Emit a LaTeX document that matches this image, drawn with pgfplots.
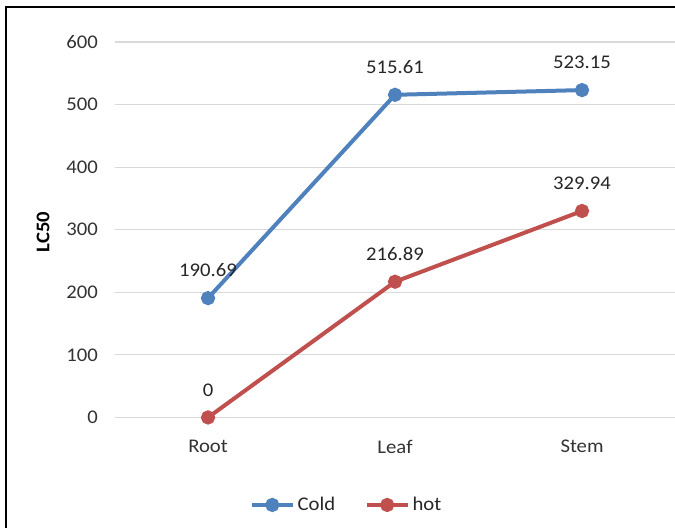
\documentclass[border=0pt]{standalone}
\usepackage{pgfplots}
\pgfplotsset{compat=1.18}
\usepackage{fontspec}
\setmainfont{Carlito}[FakeStretch=1.07]
\definecolor{coldblue}{HTML}{4F81BD}
\definecolor{hotred}{HTML}{C0504D}
\definecolor{gridgray}{HTML}{D9D9D9}
\pgfkeys{/pgf/number format/assume math mode=true}
\begin{document}
\begin{tikzpicture}
\clip (0,0) rectangle (506.25pt,396pt);
\fill[white] (0,0) rectangle (506.25pt,396pt);
% outer chart frame
\draw[line width=1.6pt] (4.7pt,-10pt) -- (4.7pt,390.8pt) -- (530pt,390.8pt);
\begin{axis}[
  at={(85.9pt,82.9pt)}, anchor=south west,
  scale only axis, width=420.75pt, height=281.6pt,
  xmin=-0.5, xmax=2.5, ymin=0, ymax=600,
  xtick={0,1,2}, xticklabels={Root,Leaf,Stem},
  ytick={0,100,...,600},
  axis line style={draw=none}, major tick length=0pt,
  ymajorgrids, grid style={gridgray, line width=0.9pt},
  tick label style={font=\fontsize{14.5}{17}\selectfont, text=black!80},
  yticklabel style={xshift=-9pt},
  xticklabel style={yshift=-13.5pt},
  clip=false,
  nodes near coords,
  every node near coord/.append style={font=\fontsize{14.5}{17}\selectfont, text=black!85, anchor=south, yshift=11pt},
  /pgf/number format/.cd, fixed, precision=2,
  /pgfplots/.cd,
  legend style={at={(0.414,-0.233)}, anchor=center, draw=none, fill=none,
    font=\fontsize{14.5}{17}\selectfont, text=black!85},
  legend columns=2,
  legend image code/.code={\draw[#1, mark repeat=2, mark phase=2] plot coordinates {(0pt,0pt) (15.5pt,0pt) (31pt,0pt)};},
  /tikz/every even column/.append style={column sep=20pt},
]
\addplot[coldblue, line width=3pt, mark=*, mark size=3.8pt, mark options={solid}] coordinates {(0,190.69) (1,515.61) (2,523.15)};
\addlegendentry{Cold}
\addplot[hotred, line width=3pt, mark=*, mark size=3.8pt, mark options={solid}] coordinates {(0,0) (1,216.89) (2,329.94)};
\addlegendentry{hot}
\end{axis}
\node[rotate=90, font=\fontsize{14.5}{17}\selectfont\bfseries] at (32.25pt,222pt) {LC50};
\end{tikzpicture}
\end{document}
